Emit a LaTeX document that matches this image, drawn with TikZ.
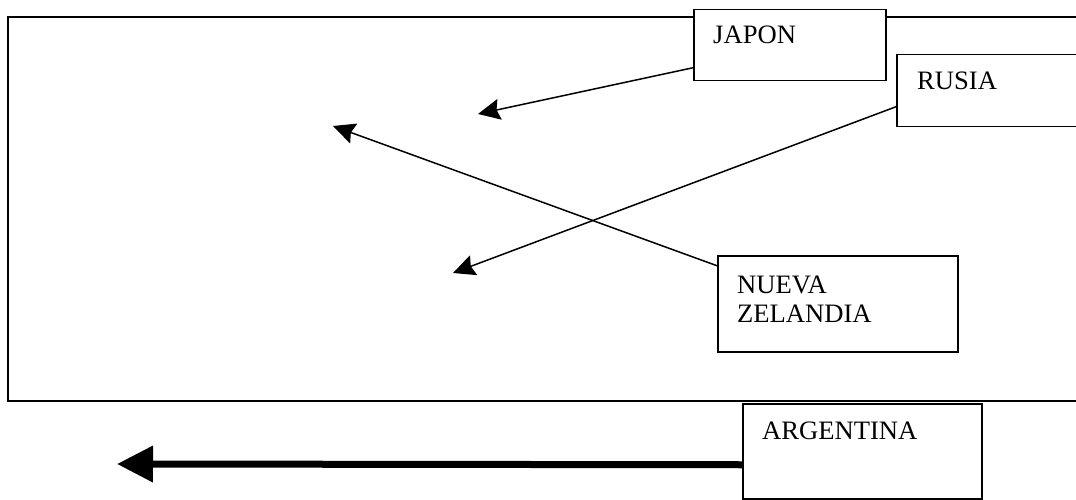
\documentclass[tikz,border=0pt]{standalone}
\usepackage{fontspec}
\setmainfont{Liberation Serif}
\usetikzlibrary{arrows.meta}
\begin{document}
\begin{tikzpicture}[x=1pt,y=-1pt,
 box/.style={draw, fill=white, line width=1.5pt, rectangle, inner sep=0pt, anchor=north west},
 lbl/.style={anchor=base west, inner sep=0pt, font=\fontsize{26.6}{31}\selectfont, align=left},
 thinarrow/.style={line width=1.5pt, -{Stealth[length=22pt,width=21pt,inset=3pt]}},
 thickarrow/.style={line width=7pt, -{Triangle[length=36pt,width=35pt]}}]
\useasboundingbox (0,0) rectangle (1076,500);
\draw[line width=1.5pt] (1100,17) -- (8,17) -- (8,401) -- (1100,401);
\node[box, minimum width=192pt, minimum height=71pt] (japon) at (693,9) {};
\node[box, minimum width=200pt, minimum height=72pt] (rusia) at (896,54) {};
\node[box, minimum width=240pt, minimum height=96pt] (nz) at (717,255) {};
\node[box, minimum width=239pt, minimum height=95pt] (arg) at (742,403) {};
\node[lbl] (tjapon) at (713,44) {JAPON};
\node[lbl] (trusia) at (917,90) {RUSIA};
\node[lbl] (tnz) at (737,322) {NUEVA\\[-2pt]ZELANDIA};
\node[lbl] (targ) at (762,439) {ARGENTINA};
\coordinate (tj) at (478,114);
\coordinate (tr) at (453,273);
\coordinate (tn) at (333,126);
\coordinate (ta) at (117,464);
\draw[thinarrow] ([yshift=-22.5pt]japon.west) -- (tj);
\draw[thinarrow] ([yshift=-16pt]rusia.west) -- (tr);
\draw[thinarrow] ([yshift=38pt]nz.west) -- (tn);
\draw[thickarrow] ([yshift=-13.5pt]arg.west) -- (ta);
\end{tikzpicture}
\end{document}
